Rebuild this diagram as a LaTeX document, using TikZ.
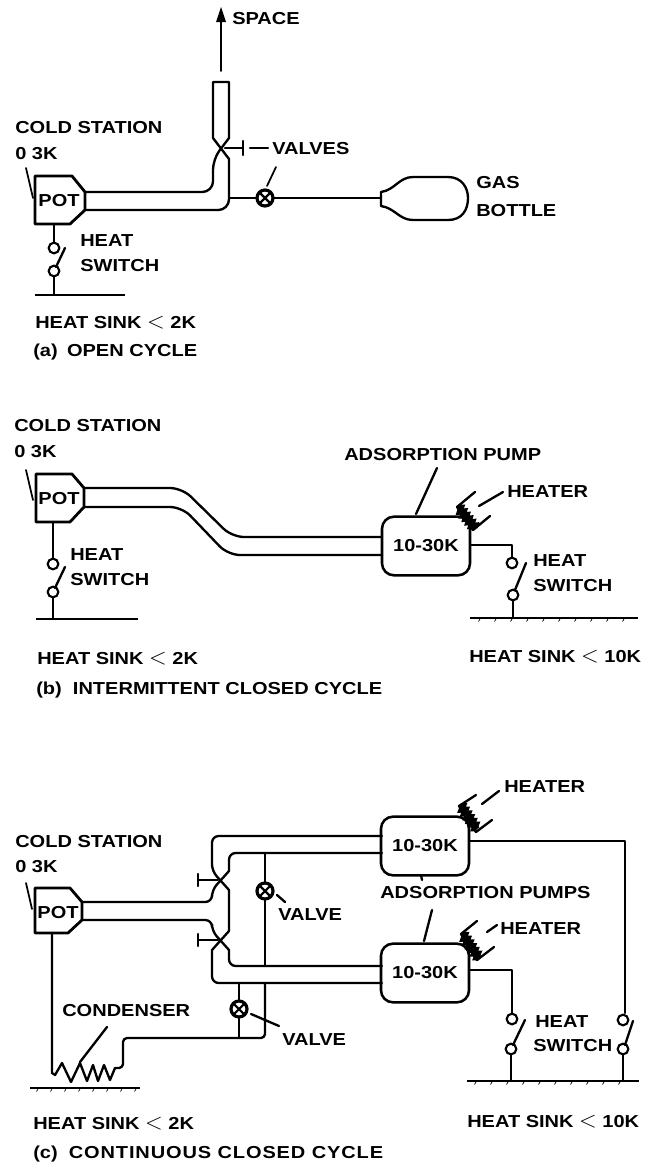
\documentclass[tikz,border=0pt]{standalone}
\usepackage{fontspec}
\setmainfont{Liberation Sans}[BoldFont={Liberation Sans Bold},BoldFeatures={FakeStretch=1.155}]
\usetikzlibrary{calc,decorations.pathmorphing}
\newcommand{\lessmark}{\scalebox{1.45}{$<$}}
\tikzset{
  x=0.75pt,y=-0.75pt,
  lab/.style={font=\bfseries\fontsize{13pt}{15pt}\selectfont,anchor=west,inner sep=0pt,text=black},
  cen/.style={font=\bfseries\fontsize{13pt}{15pt}\selectfont,anchor=center,inner sep=0pt,text=black},
  wire/.style={line width=1.75pt,line join=round,line cap=round,black},
  thin wire/.style={line width=1.3pt,line cap=round,black},
  heavy/.style={line width=2.1pt,line join=round,black},
  pump/.style={draw=black,line width=1.9pt,rounded corners=9pt,minimum width=66pt,minimum height=44pt,inner sep=0pt,font=\bfseries\fontsize{13pt}{15pt}\selectfont},
  term/.style={circle,draw=black,line width=1.6pt,minimum size=8pt,inner sep=0pt,fill=white},
  valve/.style={circle,draw=black,line width=2.4pt,minimum size=12pt,inner sep=0pt,fill=white,
    path picture={\draw[line width=1.6pt,black]
      (path picture bounding box.north west)--(path picture bounding box.south east)
      (path picture bounding box.north east)--(path picture bounding box.south west);}},
  coil/.style={line width=4.4pt,black,decorate,decoration={zigzag,segment length=3.4pt,amplitude=1.3pt}},
  hatchmark/.style={line width=0.5pt,black},
}
\begin{document}
\begin{tikzpicture}
\useasboundingbox (0,0) rectangle (645,1167);
\fill[white] (0,0) rectangle (645,1167);

%%%%%%%%%% (a) %%%%%%%%%%
\coordinate (aPT) at (85,192); \coordinate (aPB) at (85,210);
\draw[heavy] (35,176) -- (72,176) -- (aPT) -- (aPB) -- (70,224) -- (35,224) -- cycle;
\node[cen] (apot) at (59,201) {POT};
\node[lab] (acold) at (15,128) {COLD STATION};
\node[lab] (a03) at (15,154) {0 3K};
\coordinate (aL1) at (26,168); \coordinate (aL2) at (33,198);
\draw[thin wire] (aL1) -- (aL2);
% pipe
\coordinate (aXa) at (213,159); \coordinate (aXb) at (229,159);
\coordinate (aXc) at (213,138); \coordinate (aXd) at (229,138);
\draw[wire] (aPT) [rounded corners=8pt] -- (213,192) -- (aXa) [sharp corners] -- (aXd) -- (229,82) -- (213,82) -- (aXc) -- (aXb) [rounded corners=8pt] -- (229,210) -- (aPB);
\draw[heavy] (213,82) -- (229,82);
% vent
\coordinate (aV1) at (221,71); \coordinate (aV2) at (221,15);
\draw[thin wire] (aV1) -- (aV2);
\fill[black] (221,7) -- (226,22) -- (216,22) -- cycle;
\node[lab] (aspace) at (232,19) {SPACE};
% valve handle
\coordinate (aH1) at (225,148); \coordinate (aH2) at (243,148);
\draw[wire] (aH1) -- (aH2) (243,141) -- (243,155);
\coordinate (aD1) at (250,148); \coordinate (aD2) at (268,148);
\draw[wire] (aD1) -- (aD2);
\node[lab] (avalves) at (272,149) {VALVES};
% gas line
\coordinate (aT) at (229,198);
\coordinate (aN) at (381,198);
\draw[wire] (aT) -- (aN);
\node[valve] (av) at (265,198) {};
\draw[thin wire] (267,186) -- (276,167);
\draw[wire] (381,192) .. controls (395,190) and (399,177) .. (413,177) -- (448,177)
   .. controls (462,177) and (468,188) .. (468,198)
   .. controls (468,210) and (462,220) .. (448,220) -- (413,220)
   .. controls (399,220) and (395,208) .. (381,206) -- cycle;
\node[lab] (agas) at (476,183) {GAS};
\node[lab] (abot) at (476,211) {BOTTLE};
% switch
\node[term] (as1) at (54,248) {};
\node[term] (as2) at (54,271) {};
\coordinate (aG) at (54,295);
\draw[wire] (54,224) -- (as1) (as2) -- (aG);
\draw[wire] (65,248) -- (56,267);
\coordinate (aG1) at (35,295); \coordinate (aG2) at (125,295);
\draw[heavy] (aG1) -- (aG2);
\node[lab] (ah) at (80,241) {HEAT};
\node[lab] (asw) at (80,266) {SWITCH};
\node[lab] (as) at (35,323) {HEAT SINK \lessmark\ 2K};
\node[lab] (acap) at (33,352) {(a)\hspace{7pt}OPEN CYCLE};

%%%%%%%%%% (b) %%%%%%%%%%
\coordinate (bPT) at (84,488); \coordinate (bPB) at (84,507);
\draw[heavy] (36,474) -- (72,474) -- (bPT) -- (bPB) -- (70,522) -- (36,522) -- cycle;
\node[cen] (bpot) at (59,499) {POT};
\node[lab] (bcold) at (14,426) {COLD STATION};
\node[lab] (b03) at (14,452) {0 3K};
\draw[thin wire] (26,470) -- (33,500);
\node[pump] (bp) at (426,546) {10-30K};
\coordinate (bA) at (382,537); \coordinate (bB) at (382,555);
\draw[wire,rounded corners=9pt] (bPT) -- (182,488) -- (232,537) -- (bA);
\draw[wire,rounded corners=9pt] (bPB) -- (182,507) -- (228,555) -- (bB);
\node[term] (bs1) at (53,564) {};
\node[term] (bs2) at (53,592) {};
\draw[wire] (53,522) -- (bs1) (bs2) -- (53,619);
\draw[wire] (65,567) -- (55,588);
\draw[heavy] (36,619) -- (138,619);
\node[lab] (bh) at (70,555) {HEAT};
\node[lab] (bsw) at (70,580) {SWITCH};
\node[lab] (bs) at (37,659) {HEAT SINK \lessmark\ 2K};
\node[lab] (bcap) at (36,690) {(b)\ \ INTERMITTENT CLOSED CYCLE};
% right part
\node[lab] (bad) at (344,455) {ADSORPTION PUMP};
\draw[wire] (437,468) -- (416,514);
\node[term] (bs3) at (512,563) {};
\node[term] (bs4) at (513,595) {};
\draw[wire] (bp.east |- 0,545) -- (512,545) -- (bs3) (bs4) -- (513,618);
\draw[wire] (526,563) -- (515,590);
\draw[heavy] (470,618) -- (638,618);
\foreach \hx in {480,496,...,632}{\draw[hatchmark] (\hx,619) -- (\hx-1.5,621.5);}
\draw[wire] (475,492) -- (457,507) -- (473,530) -- (490,516);
\draw[coil] (459,508) -- (475,528);
\draw[wire] (479,506) -- (503,492);
\node[lab] (bheat) at (507,492) {HEATER};
\node[lab] (bh2) at (533,561) {HEAT};
\node[lab] (bsw2) at (533,586) {SWITCH};
\node[lab] (bs2t) at (469,657) {HEAT SINK \lessmark\ 10K};

%%%%%%%%%% (c) %%%%%%%%%%
\coordinate (cPT) at (82,902); \coordinate (cPB) at (82,920);
\draw[heavy] (35,888) -- (70,888) -- (cPT) -- (cPB) -- (68,933) -- (35,933) -- cycle;
\node[cen] (cpot) at (58,913) {POT};
\node[lab] (ccold) at (15,842) {COLD STATION};
\node[lab] (c03) at (15,867) {0 3K};
\draw[thin wire] (26,883) -- (32,909);
\node[pump] (cp1) at (425,846) {10-30K};
\node[pump] (cp2) at (425,973) {10-30K};
% pipes
\draw[wire] (cPT) [rounded corners=5pt] -- (212,902) -- (212,890) [sharp corners] -- (229,871) [rounded corners=5pt] -- (229,853) -- (382,853);
\draw[wire] (382,836) [rounded corners=5pt] -- (212,836) -- (212,871) [sharp corners] -- (229,890) -- (229,931) -- (212,950) [rounded corners=5pt] -- (212,983) -- (382,983);
\draw[wire] (cPB) [rounded corners=5pt] -- (212,920) -- (212,931) [sharp corners] -- (229,950) [rounded corners=5pt] -- (229,966) -- (382,966);
\draw[wire] (218,880) -- (198,880) (198,874) -- (198,886);
\draw[wire] (218,940) -- (198,940) (198,934) -- (198,946);
% upper valve
\draw[wire] (265,853) -- (265,966);
\node[valve] (cv1) at (265,891) {};
\draw[wire] (277,895) -- (285,902);
\node[lab] (cval1) at (278,915) {VALVE};
% lower valve
\draw[wire] (239,983) -- (239,1037);
\node[valve] (cv2) at (239,1009) {};
\draw[wire,rounded corners=3pt] (265,983) -- (265,1038) -- (123,1038) -- (123,1068) -- (115,1068);
\draw[wire] (251,1014) -- (279,1026);
\node[lab] (cval2) at (282,1040) {VALVE};
% condenser
\draw[wire] (115,1068) -- (110,1080) -- (104,1065) -- (98,1081) -- (93,1065) -- (87,1081) -- (80,1063) -- (71,1082) -- (62,1063) -- (55,1075) -- (52,1073) -- (52,933);
\draw[heavy] (30,1088) -- (140,1088);
\foreach \hx in {38,52,...,136}{\draw[hatchmark] (\hx,1089) -- (\hx-1.5,1091.5);}
\draw[wire] (107,1027) -- (80,1062);
\node[lab] (ccond) at (62,1011) {CONDENSER};
\node[lab] (cs) at (33,1124) {HEAT SINK \lessmark\ 2K};
\node[lab] (ccap) at (33,1154) {(c)\ \ \addfontfeature{LetterSpace=5}CONTINUOUS CLOSED CYCLE};
% pumps right
\node[lab] (cad) at (380,893) {ADSORPTION PUMPS};
\draw[wire] (421,875) -- (422,880);
\draw[wire] (432,910) -- (424,941);
\draw[wire] (476,795) -- (459,806) -- (476,832) -- (492,820);
\draw[coil] (461,806) -- (477,829);
\draw[wire] (482,804) -- (499,791);
\node[lab] (chh1) at (504,787) {HEATER};
\draw[wire] (477,921) -- (461,934) -- (477,960) -- (494,947);
\draw[coil] (463,935) -- (479,958);
\draw[wire] (487,932) -- (497,925);
\node[lab] (chh2) at (500,929) {HEATER};
% switches
\node[term] (cs1) at (512,1019) {};
\node[term] (cs2) at (511,1049) {};
\node[term] (cs3) at (623,1020) {};
\node[term] (cs4) at (623,1049) {};
\draw[wire] (469,970) -- (512,970) -- (cs1) (cs2) -- (511,1081);
\draw[wire] (469,841) -- (625,841) -- (625,1013) (cs4) -- (623,1081);
\draw[wire] (525,1020) -- (513,1045);
\draw[wire] (633,1021) -- (625,1045);
\draw[heavy] (467,1081) -- (639,1081);
\foreach \hx in {476,492,...,634}{\draw[hatchmark] (\hx,1082) -- (\hx-1.5,1084.5);}
\node[lab] (ch) at (535,1022) {HEAT};
\node[lab] (csw) at (533,1046) {SWITCH};
\node[lab] (cs10) at (467,1122) {HEAT SINK \lessmark\ 10K};
\end{tikzpicture}
\end{document}
